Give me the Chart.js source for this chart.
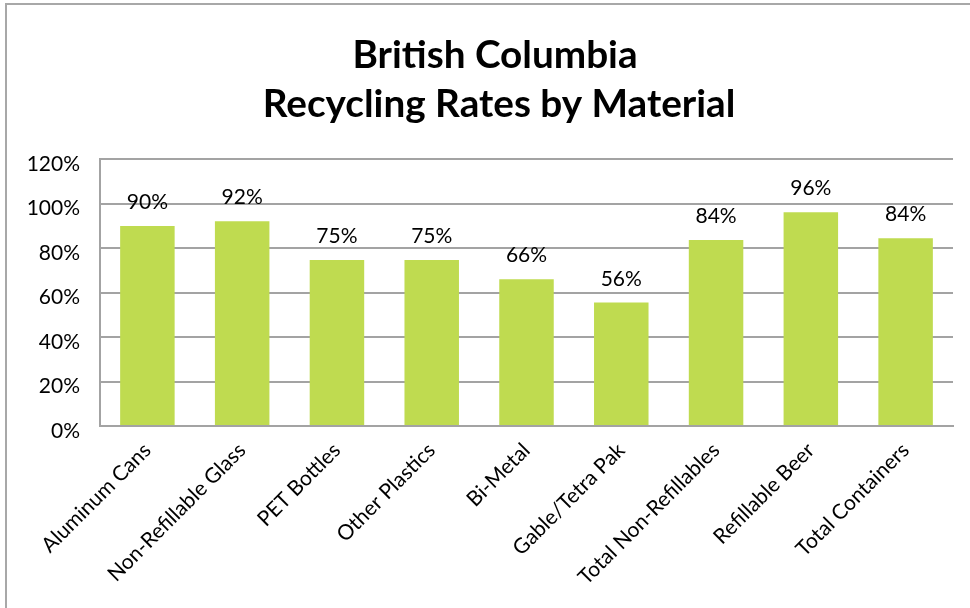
<!DOCTYPE html>
<html>
<head>
<meta charset="utf-8">
<script src="https://cdn.jsdelivr.net/npm/chart.js@4/dist/chart.umd.min.js"></script>
<style>
html,body{margin:0;padding:0;background:#fff;}
#wrap{width:970px;height:608px;position:relative;}
</style>
</head>
<body>
<div id="wrap"><canvas id="c"></canvas></div>
<script>
const categories = ["Aluminum Cans","Non-Refillable Glass","PET Bottles","Other Plastics","Bi-Metal","Gable/Tetra Pak","Total Non-Refillables","Refillable Beer","Total Containers"];
const rates = [89.9, 92.0, 74.6, 74.6, 65.9, 55.5, 83.6, 96.1, 84.4];
const yTicks = [0, 20, 40, 60, 80, 100, 120];
const titleLines = ["British Columbia", "Recycling Rates by Material"];

const FONT = "Lato, 'Open Sans', sans-serif";
const GRID = '#A3A3A3';

const frame = {
  id: 'frame',
  beforeDraw(chart) {
    const ctx = chart.ctx;
    ctx.save();
    ctx.fillStyle = '#fff';
    ctx.fillRect(0, 0, chart.width, chart.height);
    ctx.strokeStyle = '#A8A8A8';
    ctx.lineWidth = 2;
    ctx.beginPath();
    ctx.moveTo(6, 608);
    ctx.lineTo(6, 4);
    ctx.lineTo(970, 4);
    ctx.stroke();
    ctx.restore();
  },
  afterDraw(chart) {
    const ctx = chart.ctx;
    ctx.save();
    ctx.fillStyle = '#000';
    ctx.textAlign = 'center';
    ctx.textBaseline = 'alphabetic';
    let size = 34;
    ctx.font = 'bold ' + size + 'px ' + FONT;
    const w = ctx.measureText(titleLines[1]).width;
    size = size * 473 / w;
    ctx.font = 'bold ' + size.toFixed(1) + 'px ' + FONT;
    ctx.fillText(titleLines[0], 495, 68);
    ctx.fillText(titleLines[1], 499, 117);
    ctx.restore();
  }
};

const barLabels = {
  id: 'barLabels',
  afterDatasetsDraw(chart) {
    const ctx = chart.ctx;
    const meta = chart.getDatasetMeta(0);
    ctx.save();
    ctx.fillStyle = '#000';
    ctx.font = '21px ' + FONT;
    ctx.textAlign = 'center';
    ctx.textBaseline = 'alphabetic';
    meta.data.forEach((bar, i) => {
      const v = chart.data.datasets[0].data[i];
      ctx.fillText(Math.round(v) + '%', bar.x, bar.y - 17);
    });
    ctx.restore();
  }
};

new Chart(document.getElementById('c'), {
  type: 'bar',
  data: {
    labels: categories,
    datasets: [{
      data: rates,
      backgroundColor: '#BFDB50',
      borderWidth: 0,
      categoryPercentage: 1.0,
      barPercentage: 0.575
    }]
  },
  options: {
    responsive: true,
    maintainAspectRatio: false,
    animation: false,
    layout: { padding: { left: 6, right: 17, top: 159, bottom: 0 } },
    plugins: { legend: { display: false }, tooltip: { enabled: false }, title: { display: false } },
    scales: {
      x: {
        grid: { display: false, drawTicks: false },
        border: { display: true, color: GRID, width: 2 },
        ticks: {
          color: '#000',
          font: { family: FONT, size: 21 },
          maxRotation: 45, minRotation: 45,
          autoSkip: false,
          padding: 12
        },
        afterFit(scale) { scale.height = 182; }
      },
      y: {
        min: 0, max: 120,
        afterBuildTicks(scale) { scale.ticks = yTicks.map(v => ({ value: v })); },
        grid: { color: GRID, lineWidth: 2, drawTicks: false },
        border: { display: true, color: GRID, width: 2 },
        ticks: {
          color: '#000',
          font: { family: FONT, size: 21 },
          padding: 20,
          labelOffset: 5,
          callback: v => v + '%'
        },
        afterFit(scale) { scale.width = 94; }
      }
    }
  },
  plugins: [frame, barLabels]
});
</script>
</body>
</html>
